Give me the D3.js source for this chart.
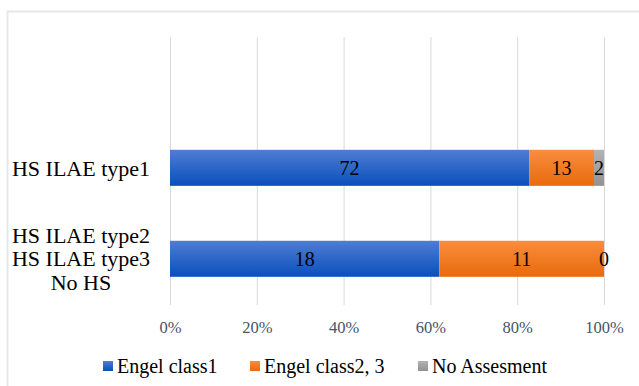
<!DOCTYPE html>
<html>
<head>
<meta charset="utf-8">
<script src="https://cdn.jsdelivr.net/npm/d3@7"></script>
<style>
  html, body { margin: 0; padding: 0; background: #ffffff; }
  svg { display: block; }
  text { font-family: "Liberation Serif", "Times New Roman", serif; }
</style>
</head>
<body>
<svg id="chart" width="639" height="386"></svg>
<script>
// Patient groups (multi-line category labels)
const categories = [
  ["HS ILAE type1"],
  ["HS ILAE type2", "HS ILAE type3", "No HS"]
];
const seriesNames = ["Engel class1", "Engel class2, 3", "No Assesment"];
// Patient counts per outcome, one array per series, aligned with categories
const engelClass1 = [72, 18];
const engelClass23 = [13, 11];
const noAssessment = [2, 0];
const tickValues = [0, 0.2, 0.4, 0.6, 0.8, 1.0];

const colorTop = ["#4f7dd2", "#f98d3e", "#b3b3b3"];
const colorBottom = ["#0a4fbd", "#e96a0c", "#929292"];

const svg = d3.select("#chart");
const defs = svg.append("defs");
colorTop.forEach((c, i) => {
  const g = defs.append("linearGradient")
    .attr("id", "grad" + i)
    .attr("x1", 0).attr("y1", 0).attr("x2", 0).attr("y2", 1);
  g.append("stop").attr("offset", "0%").attr("stop-color", c);
  g.append("stop").attr("offset", "100%").attr("stop-color", colorBottom[i]);
});

// Outer chart frame
svg.append("rect")
  .attr("x", 7.5).attr("y", 11.5)
  .attr("width", 720).attr("height", 420)
  .attr("fill", "#ffffff")
  .attr("stroke", "#e4e7eb").attr("stroke-width", 2);

const plot = { left: 170, right: 604, top: 37, bottom: 305 };

const rows = categories.map((c, i) => ({
  key: c.join("|"),
  lines: c,
  values: [engelClass1[i], engelClass23[i], noAssessment[i]]
}));
rows.forEach(r => { r.total = d3.sum(r.values); });

const x = d3.scaleLinear().domain([0, 1]).range([plot.left, plot.right]);
const y = d3.scaleBand()
  .domain(rows.map(r => r.key))
  .range([plot.top, plot.bottom])
  .paddingInner(0.604)
  .paddingOuter(0.775)
  .align(0.8);

// Vertical gridlines and ticks
const xAxis = d3.axisBottom(x)
  .tickValues(tickValues)
  .tickFormat(d3.format(".0%"))
  .tickSize(-(plot.bottom - plot.top))
  .tickSizeOuter(0)
  .tickPadding(16);

const ax = svg.append("g")
  .attr("transform", `translate(0,${plot.bottom})`)
  .call(xAxis);
ax.select(".domain").remove();
ax.selectAll(".tick line").attr("stroke", "#d9d9d9").attr("stroke-width", 1);
ax.selectAll(".tick text")
  .attr("fill", "#44546a")
  .style("font-size", "16.5px")
  .style("font-family", '"Liberation Serif", "Times New Roman", serif');

// Stacked 100% bars
const stack = d3.stack().keys([0, 1, 2]).value((r, k) => r.values[k] / r.total);
const layers = stack(rows);

layers.forEach((layer, si) => {
  const g = svg.append("g");
  g.selectAll("rect")
    .data(layer)
    .join("rect")
    .attr("x", d => x(d[0]))
    .attr("y", d => y(d.data.key))
    .attr("width", d => x(d[1]) - x(d[0]))
    .attr("height", y.bandwidth())
    .attr("fill", `url(#grad${si})`);
  g.selectAll("text")
    .data(layer)
    .join("text")
    .attr("x", d => (x(d[0]) + x(d[1])) / 2)
    .attr("y", d => y(d.data.key) + y.bandwidth() / 2)
    .attr("dy", "0.35em")
    .attr("text-anchor", "middle")
    .attr("fill", "#000000")
    .style("font-size", "20px")
    .text(d => d.data.values[si]);
});

// Category labels
const lineGap = 23.5;
rows.forEach(r => {
  const cy = y(r.key) + y.bandwidth() / 2;
  const n = r.lines.length;
  const t = svg.append("text")
    .attr("text-anchor", "middle")
    .attr("fill", "#000000")
    .style("font-size", "22px");
  r.lines.forEach((line, i) => {
    t.append("tspan")
      .attr("x", 81)
      .attr("y", cy + (i - (n - 1) / 2) * lineGap)
      .attr("dy", "0.35em")
      .text(line);
  });
});

// Legend
const legendX = [103, 250, 418];
const legend = svg.append("g").attr("transform", "translate(0,366)");
seriesNames.forEach((name, i) => {
  legend.append("rect")
    .attr("x", legendX[i]).attr("y", -5)
    .attr("width", 10).attr("height", 10)
    .attr("fill", `url(#grad${i})`);
  legend.append("text")
    .attr("x", legendX[i] + 14)
    .attr("y", 0)
    .attr("dy", "0.35em")
    .attr("fill", "#000000")
    .style("font-size", "20px")
    .text(name);
});
</script>
</body>
</html>
